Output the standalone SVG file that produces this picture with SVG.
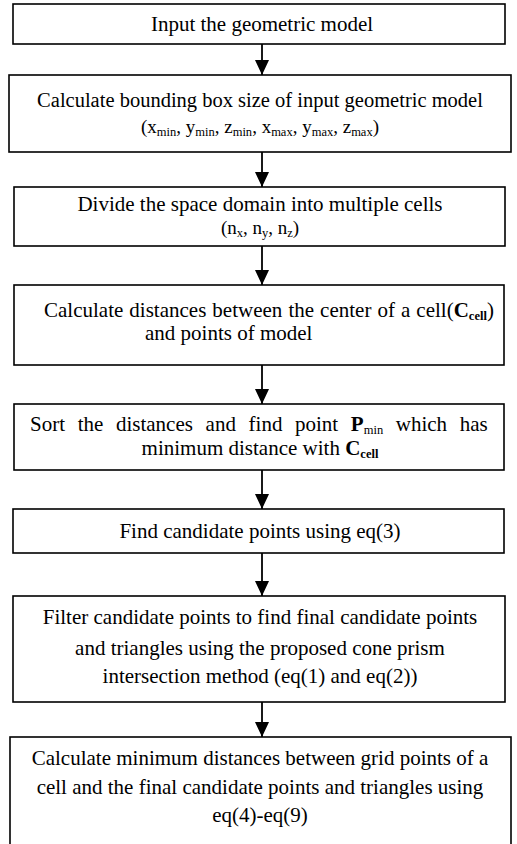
<svg xmlns="http://www.w3.org/2000/svg" width="517" height="844" viewBox="0 0 517 844">
<style>
.box{fill:#fff;stroke:#000;stroke-width:1.6}
.t{font-family:"Liberation Serif","Times New Roman",serif;font-size:21px;fill:#000}
.m{font-size:19px}
.s{font-size:12.5px}
.b{font-weight:bold}
.c{stroke:#000;stroke-width:1.8;fill:none}
</style>
<defs>
<marker id="ah" markerWidth="15" markerHeight="14" refX="15" refY="7" orient="auto" markerUnits="userSpaceOnUse" viewBox="0 0 15 14">
<path d="M0,0 L15,7 L0,14 Z" fill="#000"/>
</marker>
</defs>
<rect width="517" height="844" fill="#fff"/>
<g id="connectors">
<line class="c" x1="262" y1="44" x2="262" y2="75" marker-end="url(#ah)"/>
<line class="c" x1="262" y1="152" x2="262" y2="187" marker-end="url(#ah)"/>
<line class="c" x1="262" y1="246" x2="262" y2="285" marker-end="url(#ah)"/>
<line class="c" x1="262" y1="365" x2="262" y2="404" marker-end="url(#ah)"/>
<line class="c" x1="262" y1="470" x2="262" y2="509" marker-end="url(#ah)"/>
<line class="c" x1="262" y1="553" x2="262" y2="596" marker-end="url(#ah)"/>
<line class="c" x1="262" y1="702" x2="262" y2="737" marker-end="url(#ah)"/>
</g>
<g id="n1">
<rect class="box" x="13" y="4" width="492" height="40"/>
<text class="t" x="262" y="31" text-anchor="middle">Input the geometric model</text>
</g>
<g id="n2">
<rect class="box" x="9" y="75" width="502" height="77"/>
<text class="t" x="260" y="107" text-anchor="middle" style="font-size:20.5px">Calculate bounding box size of input geometric model</text>
<text class="t m" x="260" y="133" text-anchor="middle">(x<tspan class="s" dy="3">min</tspan><tspan dy="-3">, y</tspan><tspan class="s" dy="3">min</tspan><tspan dy="-3">, z</tspan><tspan class="s" dy="3">min</tspan><tspan dy="-3">, x</tspan><tspan class="s" dy="3">max</tspan><tspan dy="-3">, y</tspan><tspan class="s" dy="3">max</tspan><tspan dy="-3">, z</tspan><tspan class="s" dy="3">max</tspan><tspan dy="-3">)</tspan></text>
</g>
<g id="n3">
<rect class="box" x="14" y="187" width="491" height="59"/>
<text class="t" x="260" y="211" text-anchor="middle">Divide the space domain into multiple cells</text>
<text class="t m" x="260" y="234" text-anchor="middle">(n<tspan class="s" dy="3">x</tspan><tspan dy="-3">, n</tspan><tspan class="s" dy="3">y</tspan><tspan dy="-3">, n</tspan><tspan class="s" dy="3">z</tspan><tspan dy="-3">)</tspan></text>
</g>
<g id="n4">
<rect class="box" x="14" y="285" width="490" height="80"/>
<text class="t" x="44" y="317" style="word-spacing:0.8px">Calculate distances between the center of a cell(<tspan class="b">C</tspan><tspan class="s b" dy="3">cell</tspan><tspan dy="-3">)</tspan></text>
<text class="t" x="145" y="340">and points of model</text>
</g>
<g id="n5">
<rect class="box" x="14" y="404" width="490" height="66"/>
<text class="t" x="30" y="431" style="word-spacing:7.4px">Sort the distances and find point <tspan class="b">P</tspan><tspan class="s" dy="3">min</tspan><tspan dy="-3"> which has</tspan></text>
<text class="t" x="260" y="455" text-anchor="middle">minimum distance with <tspan class="b">C</tspan><tspan class="s b" dy="3">cell</tspan></text>
</g>
<g id="n6">
<rect class="box" x="13" y="509" width="491" height="44"/>
<text class="t" x="260" y="538" text-anchor="middle">Find candidate points using eq(3)</text>
</g>
<g id="n7">
<rect class="box" x="13" y="596" width="492" height="106"/>
<text class="t" x="260" y="624" text-anchor="middle">Filter candidate points to find final candidate points</text>
<text class="t" x="260" y="655" text-anchor="middle">and triangles using the proposed cone prism</text>
<text class="t" x="260" y="683" text-anchor="middle">intersection method (eq(1) and eq(2))</text>
</g>
<g id="n8">
<rect class="box" x="10" y="737" width="501" height="120"/>
<text class="t" x="260" y="765" text-anchor="middle">Calculate minimum distances between grid points of a</text>
<text class="t" x="260" y="794" text-anchor="middle">cell and the final candidate points and triangles using</text>
<text class="t" x="260" y="822" text-anchor="middle">eq(4)-eq(9)</text>
</g>
</svg>
